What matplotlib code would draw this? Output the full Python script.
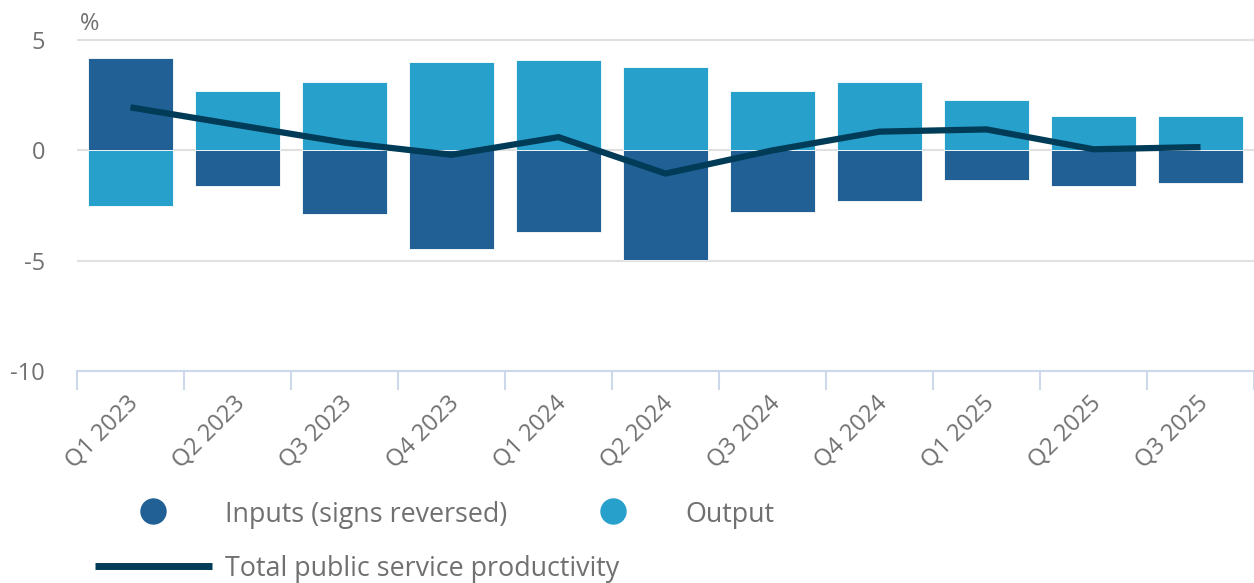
import matplotlib.pyplot as plt
from matplotlib.lines import Line2D
import matplotlib.transforms as mtransforms
import numpy as np

quarters = ["Q1 2023", "Q2 2023", "Q3 2023", "Q4 2023", "Q1 2024", "Q2 2024",
            "Q3 2024", "Q4 2024", "Q1 2025", "Q2 2025", "Q3 2025"]
inputs = [4.2, -1.6, -2.9, -4.45, -3.7, -4.95, -2.8, -2.3, -1.35, -1.6, -1.5]
output = [-2.5, 2.7, 3.1, 4.0, 4.1, 3.8, 2.7, 3.1, 2.3, 1.55, 1.55]
productivity = [1.95, 1.15, 0.35, -0.2, 0.6, -1.05, 0.0, 0.85, 0.95, 0.05, 0.15]
yticks = [-10, -5, 0, 5]

c_in = "#206095"
c_out = "#27a0cc"
c_line = "#003c57"
grey = "#707070"

plt.rcParams['font.family'] = ['Open Sans', 'DejaVu Sans']
plt.rcParams['axes.unicode_minus'] = False

fig = plt.figure(figsize=(12.54, 5.83), dpi=100)
ax = fig.add_axes([77 / 1254, 1 - 371 / 583, 1 - 77 / 1254, 353 / 583])

x = np.arange(len(quarters))
ax.bar(x, output, width=0.8, color=c_out, edgecolor="white", linewidth=0.6, zorder=2)
ax.bar(x, inputs, width=0.8, color=c_in, edgecolor="white", linewidth=0.6, zorder=2)
ax.plot(x, productivity, color=c_line, linewidth=4.5, zorder=3,
        solid_capstyle="butt", solid_joinstyle="miter")

ax.set_xlim(-0.5, len(quarters) - 0.5)
ax.set_ylim(-10, 6)
ax.set_yticks(yticks)
ax.yaxis.grid(True, color="#e0e0e0", linewidth=1.5, zorder=0)
ax.set_axisbelow(True)
ax.tick_params(axis="y", length=0, pad=23)

ax.set_xticks(x)
ax.set_xticks(np.arange(-0.5, len(quarters)), minor=True)
ax.tick_params(axis="x", which="major", length=0, pad=15)
ax.tick_params(axis="x", which="minor", length=14, width=1.5, color="#cdd8ea")
ax.set_xticklabels(quarters)

for s in ["top", "right", "left"]:
    ax.spines[s].set_visible(False)
ax.spines["bottom"].set_color("#cdd8ea")
ax.spines["bottom"].set_linewidth(1.5)

shift = mtransforms.ScaledTranslation(-4 / 100, 0, fig.dpi_scale_trans)
for lbl in ax.get_xticklabels():
    lbl.set_rotation(45)
    lbl.set_rotation_mode("anchor")
    lbl.set_horizontalalignment("right")
    lbl.set_verticalalignment("top")
    lbl.set_fontsize(17)
    lbl.set_color(grey)
    lbl.set_transform(lbl.get_transform() + shift)
for lbl in ax.get_yticklabels():
    lbl.set_fontsize(17)
    lbl.set_color(grey)
    lbl.set_horizontalalignment("right")

fig.text(80 / 1254, 1 - 24 / 583, "%", fontsize=17, color=grey, va="center")

# legend
fig.add_artist(Line2D([153 / 1254], [1 - 511 / 583], marker="o", markersize=18,
                      color=c_in, linestyle="none"))
fig.text(225 / 1254, 1 - 515 / 583, "Inputs (signs reversed)", fontsize=19.4,
         color=grey, va="center")
fig.add_artist(Line2D([613 / 1254], [1 - 511 / 583], marker="o", markersize=18,
                      color=c_out, linestyle="none"))
fig.text(685 / 1254, 1 - 515 / 583, "Output", fontsize=19.4, color=grey, va="center")
fig.add_artist(Line2D([95 / 1254, 212 / 1254], [1 - 566 / 583] * 2, linewidth=5,
                      color=c_line, solid_capstyle="butt"))
fig.text(225 / 1254, 1 - 569 / 583, "Total public service productivity", fontsize=19.4,
         color=grey, va="center")

fig.savefig("out.png", dpi=100)
